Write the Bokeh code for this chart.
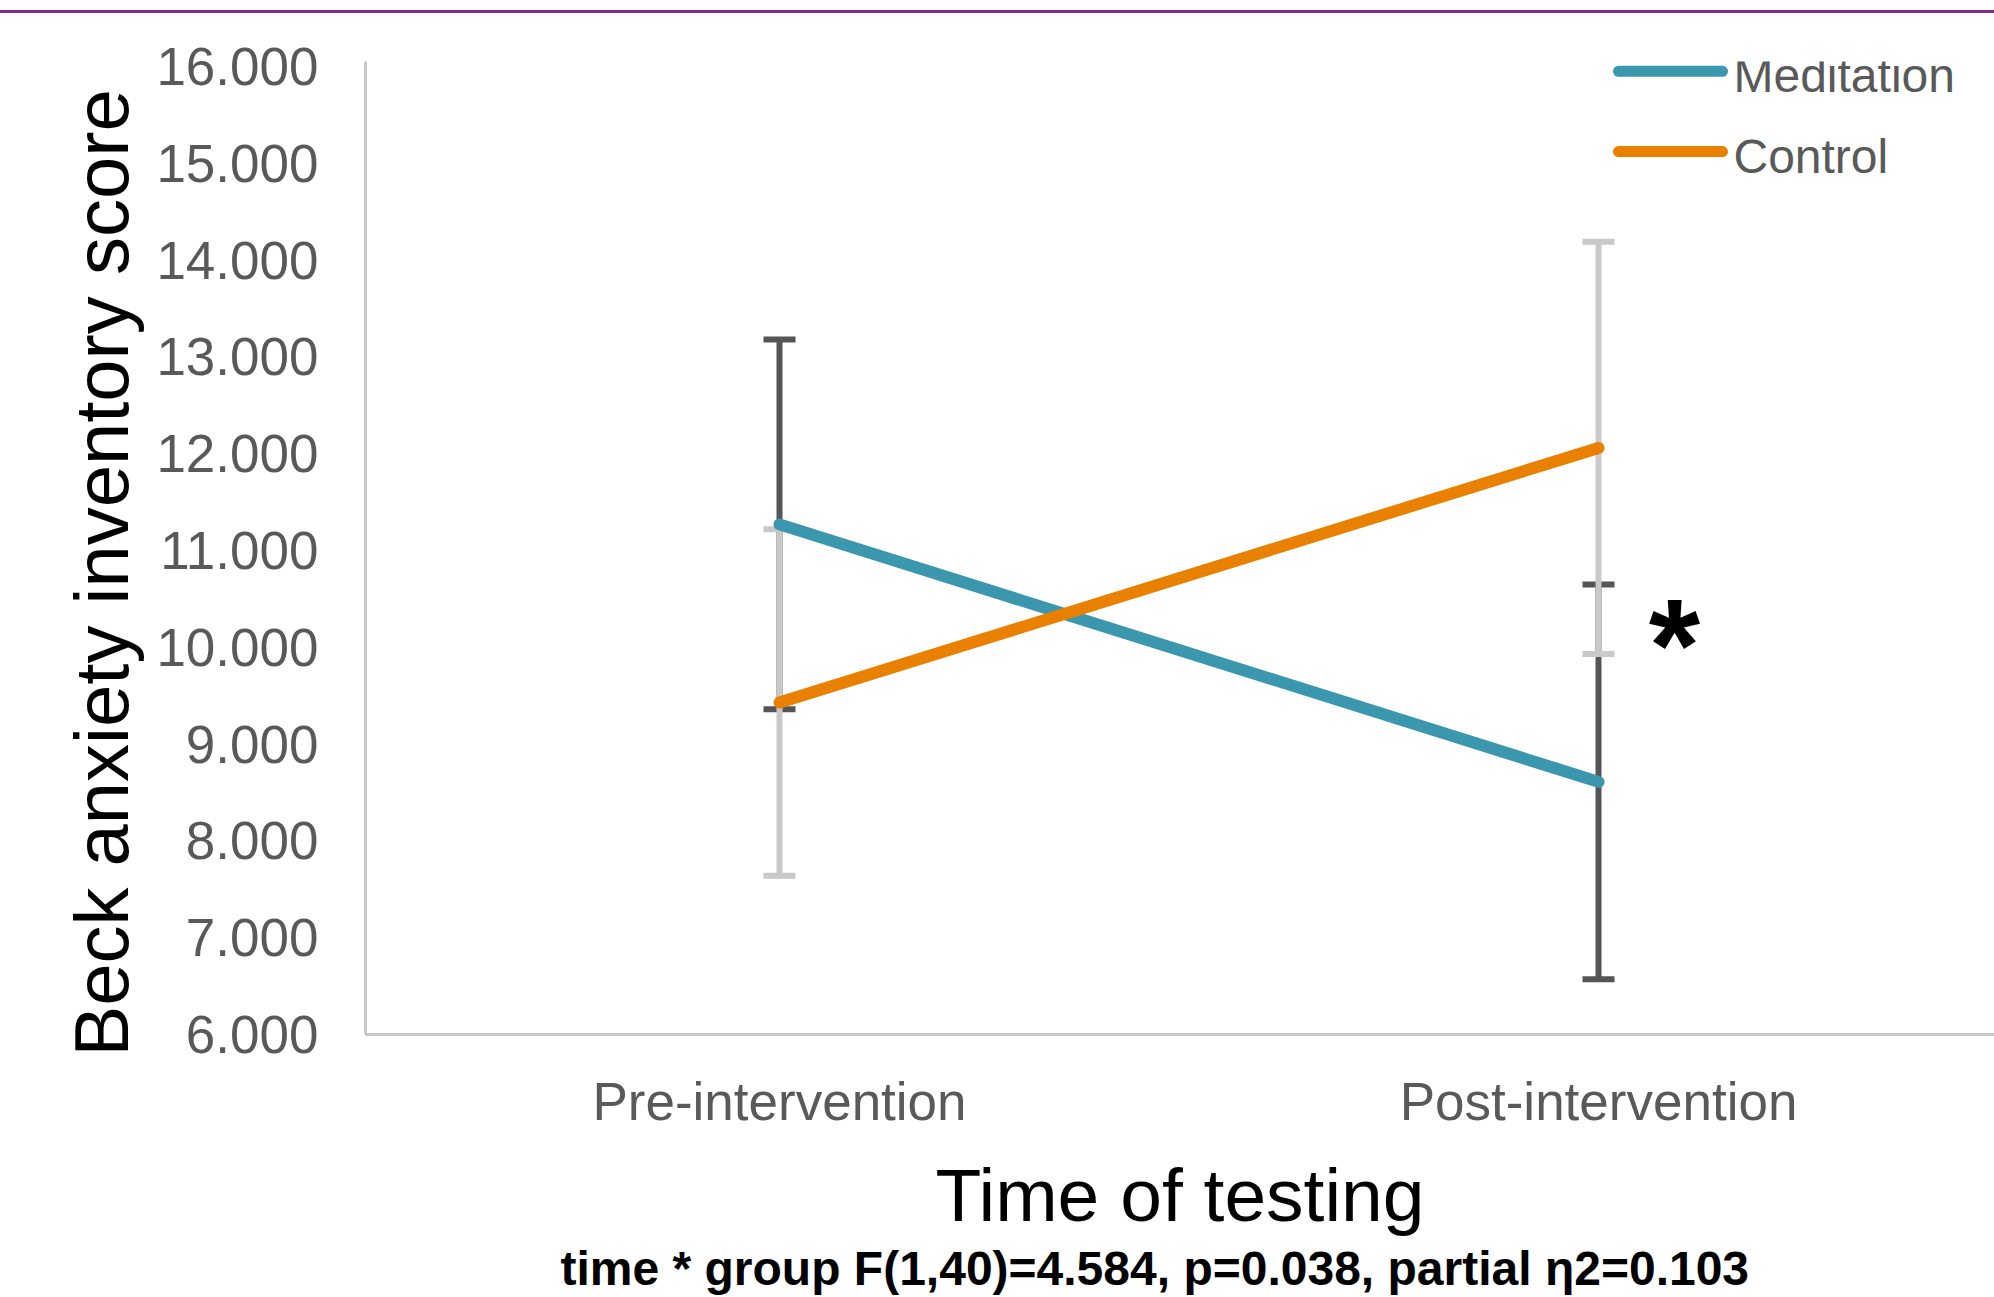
from bokeh.plotting import figure
from bokeh.models import (ColumnDataSource, Whisker, TeeHead, Label, FixedTicker,
                          NumeralTickFormatter, Range1d, Div, Title)
from bokeh.layouts import column
from bokeh.embed import file_html
from bokeh.resources import INLINE

# ---------------- data ----------------
time_labels = ["Pre-intervention", "Post-intervention"]
groups = ["Meditation", "Control"]
meditation_mean = [11.27, 8.61]
meditation_err = [1.91, 2.04]
control_mean = [9.43, 12.06]
control_err = [1.79, 2.13]
y_ticks = [6, 7, 8, 9, 10, 11, 12, 13, 14, 15, 16]
x_title = "Time of testing"
y_title = "Beck anxiety inventory score"
stats_text = "time * group F(1,40)=4.584, p=0.038, partial \u03b72=0.103"

# ---------------- style ----------------
FONT = "Liberation Sans"
TEAL = "#3A97AD"
ORANGE = "#E98000"
DARK_ERR = "#555555"
LIGHT_ERR = "#C9C9C9"
AXIS = "#C8C8C8"
TICK_TXT = "#595959"

xs = list(range(len(time_labels)))

p = figure(width=1994, height=1284, output_backend="svg", toolbar_location=None,
           x_range=Range1d(-0.5055, 1.4835), y_range=Range1d(6, 16.052),
           min_border_left=365, min_border_right=0, min_border_top=48, min_border_bottom=263)
p.outline_line_color = None
p.xgrid.visible = False
p.ygrid.visible = False
p.background_fill_color = "white"
p.border_fill_color = "white"

# axes
p.yaxis.ticker = FixedTicker(ticks=y_ticks)
p.yaxis.formatter = NumeralTickFormatter(format="0.000")
p.xaxis.ticker = FixedTicker(ticks=xs)
p.xaxis.major_label_overrides = {i: t for i, t in zip(xs, time_labels)}
for ax in (p.xaxis[0], p.yaxis[0]):
    ax.axis_line_color = AXIS
    ax.axis_line_width = 3
    ax.major_tick_line_color = None
    ax.minor_tick_line_color = None
    ax.major_tick_in = 0
    ax.major_tick_out = 0
    ax.major_label_text_font = FONT
    ax.major_label_text_color = TICK_TXT
    ax.major_label_text_font_size = "53px"
p.yaxis.major_label_standoff = 47
p.xaxis.major_label_standoff = 37

# x axis title
p.xaxis.axis_label = x_title
p.xaxis.axis_label_text_font = FONT
p.xaxis.axis_label_text_font_size = "75px"
p.xaxis.axis_label_text_font_style = "normal"
p.xaxis.axis_label_text_color = "black"
p.xaxis.axis_label_standoff = 19

# y axis title (left title panel)
p.add_layout(Title(text=y_title, align="left", offset=-22, vertical_align="bottom",
                   standoff=20, text_font=FONT, text_font_size="76px",
                   text_font_style="normal", text_color="black"), "left")

# statistics line
p.add_layout(Title(text=stats_text, align="left", offset=195, vertical_align="bottom",
                   standoff=0, text_font=FONT, text_font_size="48px",
                   text_font_style="bold", text_color="black"), "below")

# error bars
src_med = ColumnDataSource(dict(x=xs,
                                upper=[m + e for m, e in zip(meditation_mean, meditation_err)],
                                lower=[m - e for m, e in zip(meditation_mean, meditation_err)]))
src_ctl = ColumnDataSource(dict(x=xs,
                                upper=[m + e for m, e in zip(control_mean, control_err)],
                                lower=[m - e for m, e in zip(control_mean, control_err)]))
for src, col in ((src_med, DARK_ERR), (src_ctl, LIGHT_ERR)):
    w = Whisker(source=src, base="x", upper="upper", lower="lower",
                line_color=col, line_width=6,
                upper_head=TeeHead(size=32, line_color=col, line_width=6),
                lower_head=TeeHead(size=32, line_color=col, line_width=6))
    p.add_layout(w)

# lines
p.line(xs, meditation_mean, line_color=TEAL, line_width=12, line_cap="round")
p.line(xs, control_mean, line_color=ORANGE, line_width=12, line_cap="round")

# legend (manual)
leg_y_line = [15.950, 15.122]
leg_y_text = [15.907, 15.070]
for name, colr, yl, yt in zip(groups, [TEAL, ORANGE], leg_y_line, leg_y_text):
    p.line([1.0244, 1.1514], [yl, yl], line_color=colr, line_width=11, line_cap="round")
    p.add_layout(Label(x=1.1648, y=yt, text=name, text_font=FONT, text_font_size="48px",
                       text_color=TICK_TXT, text_align="left", text_baseline="alphabetic"))

# asterisk
p.add_layout(Label(x=1.0928, y=10.018, text="*", text_font=FONT, text_font_style="bold",
                   text_font_size="132px", text_color="black", text_align="center",
                   text_baseline="alphabetic"))

top = Div(text="", width=1994, height=13, margin=0,
          styles={"border-bottom": "3px solid #7B2C8E", "box-sizing": "border-box"})
p.margin = 0
layout = column(top, p, spacing=0)

open("out.html", "w").write(file_html(layout, INLINE))
